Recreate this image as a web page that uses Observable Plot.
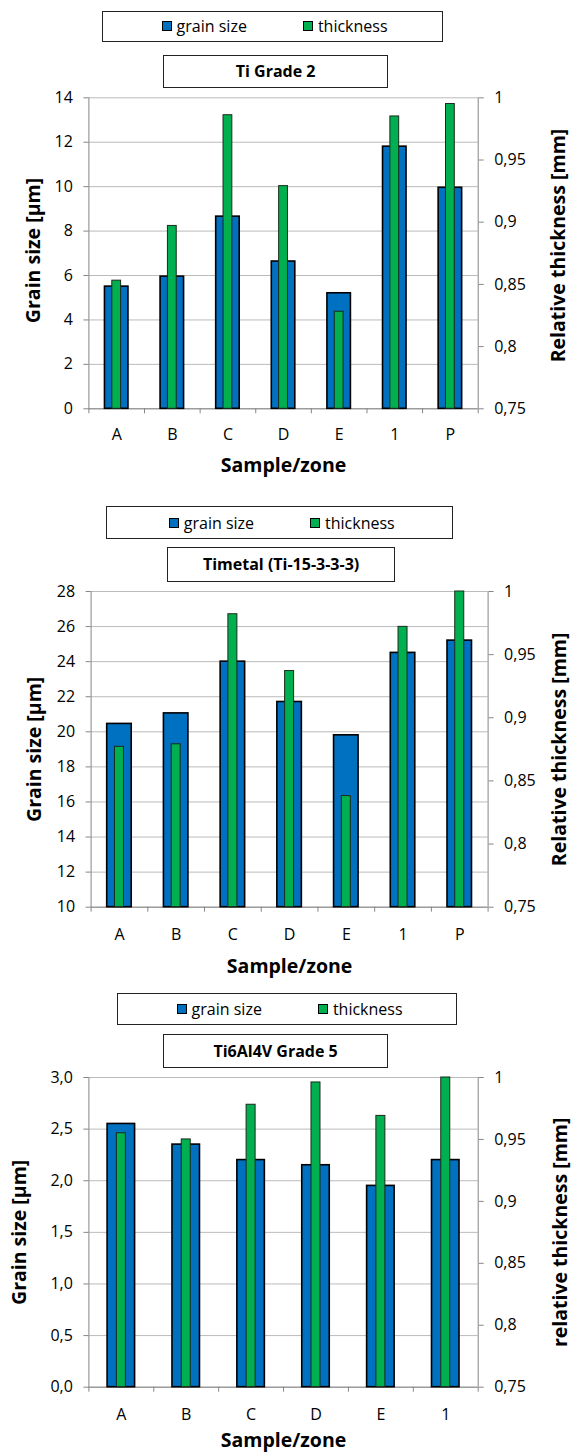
<!DOCTYPE html>
<html><head><meta charset="utf-8">
<script src="https://cdn.jsdelivr.net/npm/d3@7"></script>
<script src="https://cdn.jsdelivr.net/npm/@observablehq/plot@0.6"></script>
<style>
body{margin:0;background:#fff;font-family:'Open Sans',sans-serif;}
#page{position:relative;width:573px;height:1454px;overflow:hidden;background:#fff;}
.box{position:absolute;box-sizing:border-box;border:1px solid #222;background:#fff;display:flex;align-items:center;justify-content:center;color:#000;}
.legend{font-size:16px;padding-left:5px;}
.item{display:flex;align-items:center;margin:0 28px;white-space:nowrap;}
.sw{width:8px;height:8px;border:1.6px solid #000;margin-right:5px;}
.title{font-weight:bold;font-size:16px;white-space:nowrap;}
.chart{position:absolute;left:0;}
</style></head>
<body><div id="page"></div>
<script>
// ---- data ----
const categoriesA = ["A","B","C","D","E","1","P"];
const categoriesB = ["A","B","C","D","E","1"];

const grainTi2 = [5.5, 5.95, 8.65, 6.63, 5.2, 11.8, 9.95];
const thickTi2 = [0.853, 0.897, 0.986, 0.929, 0.828, 0.985, 0.995];

const grainTimetal = [20.45, 21.05, 24.0, 21.7, 19.8, 24.5, 25.2];
const thickTimetal = [0.877, 0.879, 0.982, 0.937, 0.838, 0.972, 1.0];

const grainTi64 = [2.55, 2.35, 2.2, 2.15, 1.95, 2.2];
const thickTi64 = [0.955, 0.950, 0.978, 0.996, 0.969, 1.0];

const leftTicksTi2 = [0, 2, 4, 6, 8, 10, 12, 14];
const leftTicksTimetal = [10, 12, 14, 16, 18, 20, 22, 24, 26, 28];
const leftTicksTi64 = [0, 0.5, 1.0, 1.5, 2.0, 2.5, 3.0];
const rightTicks = [0.75, 0.8, 0.85, 0.9, 0.95, 1];

const seriesNames = ["grain size", "thickness"];
const seriesColors = ["#0070C0", "#00B050"];
const titles = ["Ti Grade 2", "Timetal (Ti-15-3-3-3)", "Ti6Al4V Grade 5"];
const xLabel = "Sample/zone";
const leftLabel = "Grain size [µm]";
const rightLabels = ["Relative thickness [mm]", "Relative thickness [mm]", "relative thickness [mm]"];

// ---- layout ----
const W = 573;
const page = document.getElementById("page");
const comma = v => String(v).replace(".", ",");

function addBox(cls, pos, html) {
  const d = document.createElement("div");
  d.className = "box " + cls;
  Object.assign(d.style, {left: pos[0] + "px", top: pos[1] + "px", width: pos[2] + "px", height: pos[3] + "px"});
  d.innerHTML = html;
  page.appendChild(d);
}

function panel(cfg) {
  const {cats, grain, thick, yDomain, yTicks, yFmt, title, rightLabel} = cfg;
  addBox("legend", cfg.legendPos, seriesNames.map((n, i) =>
    `<div class="item"><div class="sw" style="background:${seriesColors[i]}"></div><span>${n}</span></div>`).join(""));
  addBox("title", cfg.titlePos, title);

  const ml = cfg.ml, mr = cfg.mr;
  const mt = cfg.plotTop - cfg.svgTop, mb = cfg.svgBottom - cfg.plotBottom;
  const H = cfg.svgBottom - cfg.svgTop;
  const plotH = cfg.plotBottom - cfg.plotTop;
  const bw = (W - ml - mr) / cats.length;
  const toY = d3.scaleLinear([0.75, 1], yDomain);
  const rows = cats.map((c, i) => ({cat: c, grain: grain[i], thickY: toY(thick[i])}));
  const axisGray = "#868686";
  const titleFont = 19.5;

  const chart = Plot.plot({
    width: W, height: H,
    marginLeft: ml, marginRight: mr, marginTop: mt, marginBottom: mb,
    x: {type: "band", domain: cats, padding: 0, round: false, label: null},
    y: {domain: yDomain, label: null},
    style: {fontFamily: "'Open Sans', sans-serif", fontSize: "16px", color: "#000", overflow: "visible", background: "transparent"},
    marks: [
      Plot.gridY(yTicks, {stroke: "#BBBBBB", strokeOpacity: 1, strokeWidth: 1}),
      Plot.ruleY([yDomain[0]], {stroke: axisGray}),
      Plot.barY(rows, {x: "cat", y1: () => yDomain[0], y2: "grain", fill: seriesColors[0], stroke: "#000", strokeWidth: 1.6,
        insetLeft: (bw - cfg.blueW) / 2, insetRight: (bw - cfg.blueW) / 2}),
      Plot.barY(rows, {x: "cat", y1: () => yDomain[0], y2: "thickY", fill: seriesColors[1], stroke: "#1b2a1b", strokeWidth: 1,
        insetLeft: (bw - cfg.greenW) / 2, insetRight: (bw - cfg.greenW) / 2}),
      // category boundary ticks and frame sides
      Plot.ruleX(cats.slice(1), {x: d => d, dx: -bw / 2, insetTop: plotH, insetBottom: -5, stroke: axisGray}),
      Plot.ruleX([cats[0]], {x: d => d, dx: -bw / 2, insetBottom: -5, stroke: axisGray}),
      Plot.ruleX([cats[cats.length - 1]], {x: d => d, dx: bw / 2, insetBottom: -5, stroke: axisGray}),
      Plot.axisY(yTicks, {anchor: "left", tickSize: 5, tickPadding: 11, tickFormat: yFmt, stroke: axisGray, fill: "#000", label: null}),
      Plot.axisY(rightTicks.map(t => toY(t)), {anchor: "right", tickSize: 5, tickPadding: 11,
        tickFormat: v => comma(+toY.invert(v).toFixed(2)), stroke: axisGray, fill: "#000", label: null}),
      Plot.axisX({tickSize: 0, tickPadding: cfg.xPad, fill: "#000", label: null}),
      Plot.text([leftLabel], {text: d => d, frameAnchor: "left", rotate: -90, dx: cfg.lDx, dy: cfg.lDy || 0,
        fontWeight: "bold", fontSize: titleFont, textAnchor: "middle", lineAnchor: "middle", fill: "#000"}),
      Plot.text([rightLabel], {text: d => d, frameAnchor: "right", rotate: -90, dx: cfg.rDx, dy: cfg.rDy || 0,
        fontWeight: "bold", fontSize: titleFont, textAnchor: "middle", lineAnchor: "middle", fill: "#000"}),
      Plot.text([xLabel], {text: d => d, frameAnchor: "bottom", dy: cfg.xlDy,
        fontWeight: "bold", fontSize: titleFont, textAnchor: "middle", lineAnchor: "middle", fill: "#000"})
    ]
  });
  chart.classList.add("chart");
  chart.style.top = cfg.svgTop + "px";
  page.appendChild(chart);
}

panel({cats: categoriesA, grain: grainTi2, thick: thickTi2, yDomain: [0, 14], yTicks: leftTicksTi2, yFmt: d => comma(d),
  title: titles[0], rightLabel: rightLabels[0],
  legendPos: [101.6, 10.7, 341, 31.6], titlePos: [163, 54.7, 225.2, 33.3],
  svgTop: 90, plotTop: 97.3, plotBottom: 408.3, svgBottom: 485, ml: 88.4, mr: 95.3,
  blueW: 23.5, greenW: 8.8, lDx: -55.5, lDy: -2.8, rDx: 80.5, rDy: -7.8, xlDy: 56.7, xPad: 20});

panel({cats: categoriesA, grain: grainTimetal, thick: thickTimetal, yDomain: [10, 28], yTicks: leftTicksTimetal, yFmt: d => comma(d),
  title: titles[1], rightLabel: rightLabels[1],
  legendPos: [106, 506, 346.5, 33.3], titlePos: [166.7, 546.7, 228.8, 35],
  svgTop: 583, plotTop: 591, plotBottom: 906.7, svgBottom: 985, ml: 90.6, mr: 85.4,
  blueW: 24.5, greenW: 9, lDx: -55.9, lDy: 0, rDx: 72, rDy: 0, xlDy: 60, xPad: 21.6});

panel({cats: categoriesB, grain: grainTi64, thick: thickTi64, yDomain: [0, 3], yTicks: leftTicksTi64, yFmt: d => comma(d.toFixed(1)),
  title: titles[2], rightLabel: rightLabels[2],
  legendPos: [117, 992.7, 340.2, 32.6], titlePos: [163, 1034.3, 225.2, 33.7],
  svgTop: 1070, plotTop: 1077, plotBottom: 1386.7, svgBottom: 1454, ml: 88.4, mr: 95.3,
  blueW: 27.5, greenW: 9, lDx: -69.6, lDy: 0, rDx: 82.3, rDy: 0, xlDy: 53.8, xPad: 21.6});
</script>
</body></html>
